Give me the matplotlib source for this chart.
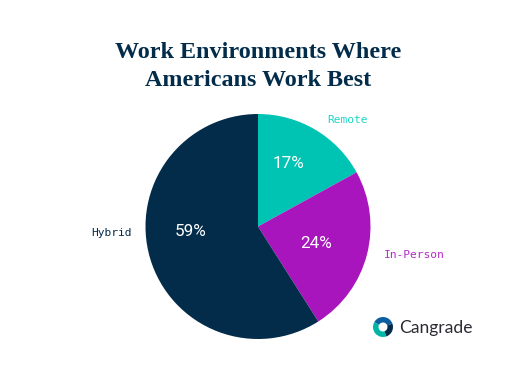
import matplotlib
matplotlib.use('Agg')
import matplotlib.pyplot as plt
from matplotlib.patches import Wedge

labels = ['Remote', 'In-Person', 'Hybrid']
values = [17, 24, 59]
colors = ['#00c4b3', '#a815bd', '#022c4a']
pct_labels = ['17%', '24%', '59%']

H = 373

fig = plt.figure(figsize=(5.12, 3.73), dpi=100)
ax = fig.add_axes([0, 0, 1, 1])

# pie
ax.pie(values, colors=colors, startangle=90, counterclock=False,
       radius=112.5, center=(258, H - 226.5), frame=True)
ax.set_xlim(0, 512)
ax.set_ylim(0, H)
ax.set_aspect('auto')
ax.axis('off')

ax.text(288, H - 163, pct_labels[0], color='white', fontsize=12.3, family='Roboto', ha='center', va='center')
ax.text(316, H - 244, pct_labels[1], color='white', fontsize=12.3, family='Roboto', ha='center', va='center')
ax.text(191, H - 231, pct_labels[2], color='white', fontsize=12.3, family='Roboto', ha='center', va='center')

ax.text(347, H - 120, labels[0], color='#1fd6c6', fontsize=8.1, family='DejaVu Sans Mono', ha='center', va='center')
ax.text(414, H - 255, labels[1], color='#b52ac8', fontsize=8.1, family='DejaVu Sans Mono', ha='center', va='center')
ax.text(111, H - 233, labels[2], color='#022c4a', fontsize=8.1, family='DejaVu Sans Mono', ha='center', va='center')

ax.text(258, H - 52, 'Work Environments Where', color='#022c4a', fontsize=17.4,
        family='Liberation Serif', weight='bold', ha='center', va='center')
ax.text(258, H - 80, 'Americans Work Best', color='#022c4a', fontsize=17.4,
        family='Liberation Serif', weight='bold', ha='center', va='center')

# logo
ax.text(399, H - 328, 'Cangrade', color='#2b2b33', fontsize=12.6, family='Lato', ha='left', va='center')
ax.add_patch(Wedge((383, H - 327), 10, 150, 290, width=5.5, color='#00b5a5', lw=0))
ax.add_patch(Wedge((383, H - 327), 10, 20, 150, width=5.5, color='#0b5fa0', lw=0))
ax.add_patch(Wedge((383, H - 327), 10, 290, 20, width=5.5, color='#022c4a', lw=0))

fig.savefig('out.png', dpi=100)
